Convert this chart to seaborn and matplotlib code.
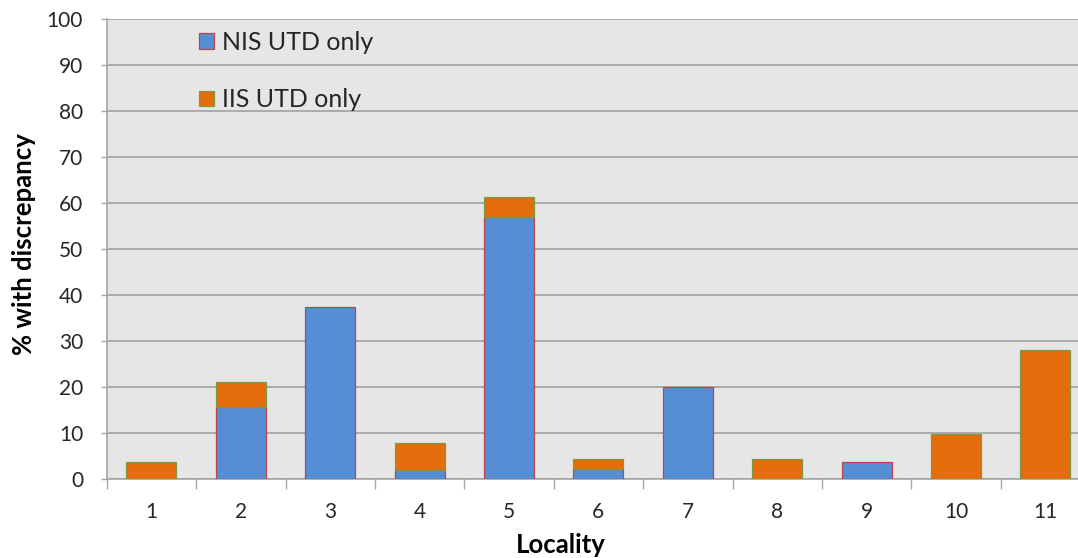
import matplotlib
matplotlib.use("Agg")
import matplotlib.pyplot as plt
import seaborn as sns
import numpy as np
import pandas as pd
from matplotlib.patches import Patch
from matplotlib.ticker import FixedLocator

# Share of records with a discrepancy, by locality
localities = ["1", "2", "3", "4", "5", "6", "7", "8", "9", "10", "11"]
nis_only = [0, 15.7, 37.3, 1.9, 57.0, 2.2, 20.1, 0, 3.6, 0, 0]
iis_only = [3.6, 5.4, 0, 6.0, 4.4, 2.1, 0, 4.3, 0, 9.8, 28.0]
series_labels = ["NIS UTD only", "IIS UTD only"]
y_ticks = [0, 10, 20, 30, 40, 50, 60, 70, 80, 90, 100]

BLUE, BLUE_EDGE = "#558ED5", "#B5474A"
ORANGE, ORANGE_EDGE = "#E46C0A", "#7E9A45"
GRID = "#A6A6A6"
TEXT = "#262626"

sns.set_theme(style="white")
plt.rcParams["font.family"] = ["Lato", "DejaVu Sans"]

df = pd.DataFrame({"Locality": localities, "nis": nis_only, "iis": iis_only})

fig = plt.figure(figsize=(10.78, 5.58), dpi=100)
W, H = 1078, 558
ax = fig.add_axes([106.7 / W, 1 - 479 / H, 11 * 89.4 / W, (479 - 19) / H])
ax.set_facecolor("#E6E6E6")

sns.barplot(data=df, x="Locality", y="nis", order=localities, color=BLUE,
            saturation=1, width=0.56, edgecolor=BLUE_EDGE, linewidth=0.9,
            errorbar=None, ax=ax, zorder=3)
sns.barplot(data=df, x="Locality", y="iis", order=localities, color=ORANGE,
            saturation=1, width=0.56, edgecolor=ORANGE_EDGE, linewidth=0.9,
            errorbar=None, bottom=df["nis"].to_numpy(), ax=ax, zorder=3)

# hide empty segments so they leave no outline on the axis
for p in ax.patches:
    if p.get_height() == 0:
        p.set_visible(False)

ax.set_xlim(-0.5, len(localities) - 0.5)
ax.set_ylim(0, 100)
ax.set_yticks(y_ticks)
ax.yaxis.grid(True, color=GRID, linewidth=1.3, zorder=0)
ax.set_axisbelow(True)

for side in ["top", "right"]:
    ax.spines[side].set_visible(False)
for side in ["left", "bottom"]:
    ax.spines[side].set_color(GRID)
    ax.spines[side].set_linewidth(1.2)

ax.tick_params(axis="y", which="major", length=4, width=1, color=GRID,
               pad=13, labelsize=15, labelcolor=TEXT, left=True)
ax.tick_params(axis="x", which="major", length=0, pad=16.5,
               labelsize=15, labelcolor=TEXT)
ax.xaxis.set_minor_locator(FixedLocator(np.arange(-0.5, len(localities), 1.0)))
ax.tick_params(axis="x", which="minor", length=7, width=1, color=GRID,
               bottom=True)

ax.set_xlabel("")
ax.set_ylabel("")
fig.text(561 / W, 1 - 553 / H, "Locality", ha="center", va="baseline",
         fontsize=18.5, fontweight="bold", color="black")
fig.text(24 / W, 1 - 244.5 / H, "% with discrepancy", ha="center",
         va="center", rotation=90, fontsize=18.5, fontweight="bold",
         color="black")

handles = [Patch(facecolor=BLUE, edgecolor=BLUE_EDGE, linewidth=0.9),
           Patch(facecolor=ORANGE, edgecolor=ORANGE_EDGE, linewidth=0.9)]
fig.legend(handles, series_labels, loc="upper left",
           bbox_to_anchor=(199 / W, 1 - 31 / H), frameon=False, fontsize=18,
           handlelength=0.6, handleheight=0.6, handletextpad=0.32,
           labelspacing=1.37, borderpad=0, borderaxespad=0)

fig.savefig("out.png", dpi=100)
